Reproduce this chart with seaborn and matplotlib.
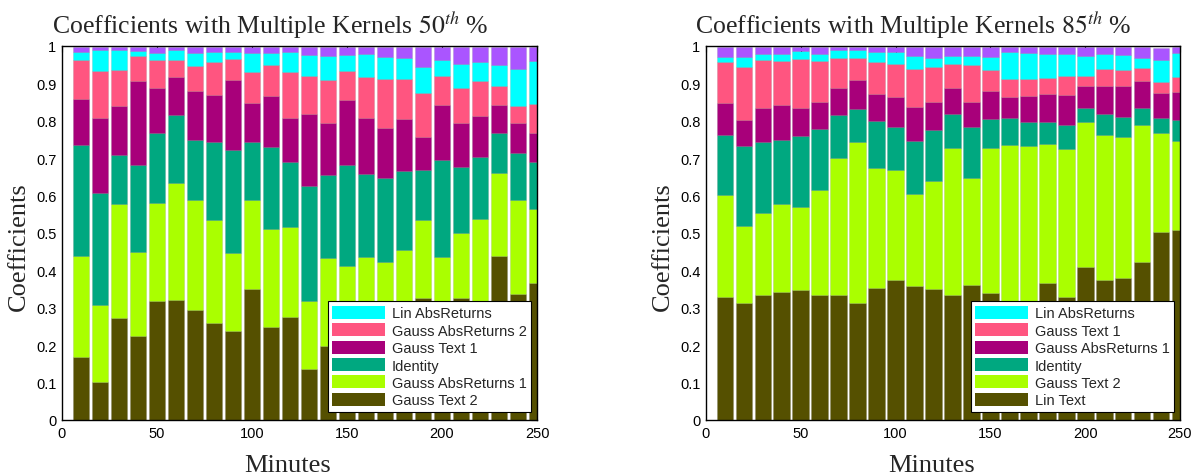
import numpy as np
import pandas as pd
import matplotlib
matplotlib.use("Agg")
import matplotlib.pyplot as plt
import seaborn as sns
from matplotlib.patches import Patch

minutes = list(range(10, 251, 10))

# ---- Left panel (50th percentile), segment heights bottom -> top ----
l_gauss_text2 = [0.168, 0.102, 0.273, 0.224, 0.318, 0.321, 0.294, 0.259, 0.239, 0.349, 0.249, 0.276, 0.136,
                 0.198, 0.280, 0.300, 0.250, 0.290, 0.326, 0.310, 0.325, 0.300, 0.439, 0.338, 0.365]
l_gauss_absret1 = [0.270, 0.205, 0.305, 0.225, 0.263, 0.312, 0.294, 0.276, 0.208, 0.239, 0.262, 0.239, 0.182,
                   0.234, 0.131, 0.136, 0.172, 0.164, 0.209, 0.127, 0.175, 0.237, 0.221, 0.250, 0.199]
l_identity = [0.298, 0.301, 0.131, 0.234, 0.186, 0.183, 0.161, 0.208, 0.275, 0.155, 0.218, 0.176, 0.309,
              0.222, 0.271, 0.222, 0.225, 0.213, 0.134, 0.258, 0.176, 0.166, 0.107, 0.126, 0.125]
l_gauss_text1 = [0.122, 0.200, 0.131, 0.224, 0.122, 0.100, 0.131, 0.127, 0.187, 0.104, 0.136, 0.116, 0.190,
                 0.139, 0.174, 0.149, 0.135, 0.138, 0.088, 0.147, 0.118, 0.109, 0.076, 0.080, 0.078]
l_gauss_absret2 = [0.105, 0.125, 0.096, 0.067, 0.074, 0.047, 0.066, 0.087, 0.055, 0.083, 0.084, 0.123, 0.102,
                   0.117, 0.076, 0.109, 0.130, 0.107, 0.117, 0.077, 0.093, 0.095, 0.050, 0.045, 0.078]
l_lin_absret = [0.020, 0.057, 0.053, 0.013, 0.018, 0.025, 0.034, 0.028, 0.019, 0.052, 0.031, 0.053, 0.057,
                0.063, 0.044, 0.063, 0.059, 0.055, 0.071, 0.044, 0.065, 0.050, 0.056, 0.099, 0.115]
l_other = [0.013, 0.006, 0.007, 0.009, 0.015, 0.008, 0.016, 0.011, 0.013, 0.014, 0.016, 0.013, 0.020,
           0.023, 0.020, 0.017, 0.025, 0.029, 0.051, 0.033, 0.044, 0.039, 0.047, 0.058, 0.036]

# ---- Right panel (85th percentile), segment heights bottom -> top ----
r_lin_text = [0.329, 0.313, 0.334, 0.342, 0.347, 0.333, 0.334, 0.312, 0.353, 0.374, 0.358, 0.349, 0.334,
              0.362, 0.340, 0.300, 0.310, 0.366, 0.328, 0.410, 0.373, 0.379, 0.422, 0.502, 0.508]
r_gauss_text2 = [0.273, 0.206, 0.220, 0.235, 0.223, 0.283, 0.367, 0.431, 0.322, 0.295, 0.246, 0.291, 0.393,
                 0.286, 0.387, 0.436, 0.422, 0.372, 0.396, 0.388, 0.390, 0.379, 0.367, 0.265, 0.238]
r_identity = [0.160, 0.213, 0.190, 0.172, 0.189, 0.162, 0.114, 0.089, 0.125, 0.114, 0.142, 0.135, 0.090,
              0.136, 0.079, 0.071, 0.065, 0.058, 0.065, 0.035, 0.054, 0.052, 0.045, 0.041, 0.056]
r_gauss_absret1 = [0.086, 0.071, 0.090, 0.093, 0.074, 0.071, 0.074, 0.076, 0.071, 0.080, 0.090, 0.074, 0.071,
                   0.065, 0.075, 0.057, 0.069, 0.076, 0.081, 0.060, 0.076, 0.083, 0.072, 0.066, 0.074]
r_gauss_text1 = [0.108, 0.142, 0.129, 0.118, 0.132, 0.111, 0.079, 0.060, 0.087, 0.089, 0.102, 0.095, 0.064,
                 0.101, 0.055, 0.049, 0.047, 0.042, 0.050, 0.028, 0.045, 0.042, 0.034, 0.030, 0.041]
r_lin_absret = [0.015, 0.025, 0.016, 0.019, 0.021, 0.019, 0.021, 0.020, 0.025, 0.032, 0.036, 0.024, 0.022,
                0.024, 0.034, 0.072, 0.068, 0.065, 0.059, 0.053, 0.041, 0.041, 0.028, 0.059, 0.064]
r_other = [0.025, 0.026, 0.017, 0.017, 0.010, 0.017, 0.007, 0.008, 0.013, 0.012, 0.022, 0.028, 0.022,
           0.022, 0.026, 0.011, 0.015, 0.017, 0.017, 0.022, 0.017, 0.020, 0.028, 0.031, 0.015]

C_OLIVE = "#555000"
C_LIME = "#aaff00"
C_TEAL = "#00a880"
C_MAG = "#a8007a"
C_PINK = "#ff5580"
C_CYAN = "#00ffff"
C_PURP = "#aa55ff"

left_series = [  # top -> bottom (legend order), with colors
    ("Other", l_other, C_PURP),
    ("Lin AbsReturns", l_lin_absret, C_CYAN),
    ("Gauss AbsReturns 2", l_gauss_absret2, C_PINK),
    ("Gauss Text 1", l_gauss_text1, C_MAG),
    ("Identity", l_identity, C_TEAL),
    ("Gauss AbsReturns 1", l_gauss_absret1, C_LIME),
    ("Gauss Text 2", l_gauss_text2, C_OLIVE),
]
right_series = [
    ("Other", r_other, C_PURP),
    ("Lin AbsReturns", r_lin_absret, C_CYAN),
    ("Gauss Text 1", r_gauss_text1, C_PINK),
    ("Gauss AbsReturns 1", r_gauss_absret1, C_MAG),
    ("Identity", r_identity, C_TEAL),
    ("Gauss Text 2", r_gauss_text2, C_LIME),
    ("Lin Text", r_lin_text, C_OLIVE),
]

sns.set_style("white")
plt.rcParams["font.family"] = ["Liberation Sans", "DejaVu Sans"]
plt.rcParams["mathtext.fontset"] = "stix"

fig = plt.figure(figsize=(11.99, 4.77), dpi=100)
axes = [fig.add_axes([62 / 1199, 56 / 477, 475 / 1199, 374 / 477]),
        fig.add_axes([706 / 1199, 56 / 477, 474 / 1199, 374 / 477])]
titles = [r"Coefficients with Multiple Kernels $50^{th}$ %",
          r"Coefficients with Multiple Kernels $85^{th}$ %"]
serif = ["Liberation Serif", "DejaVu Serif"]

for ax, series, title in zip(axes, [left_series, right_series], titles):
    rows = []
    for name, vals, _ in series:
        for m, v in zip(minutes, vals):
            rows.append({"minute": m, "series": name, "value": v})
    df = pd.DataFrame(rows)
    order = [s[0] for s in series]
    pal = {s[0]: s[2] for s in series}
    sns.histplot(data=df, x="minute", weights="value", hue="series", hue_order=order,
                 palette=pal, multiple="stack", binwidth=10, binrange=(5, 255),
                 shrink=0.88, alpha=1, linewidth=0.4, edgecolor=(0, 0, 0, 0.15),
                 legend=False, ax=ax)
    ax.set_xlim(0, 250)
    ax.set_ylim(0, 1)
    ax.set_xticks(range(0, 251, 50))
    ax.set_yticks(np.round(np.arange(0, 1.01, 0.1), 1))
    ax.set_yticklabels(["0"] + [f"{v:.1f}" for v in np.arange(0.1, 0.95, 0.1)] + ["1"])
    ax.tick_params(direction="in", length=4, width=0.8, labelsize=10.5, top=True, right=True,
                   colors="black", pad=4)
    ax.set_axisbelow(True)
    for sp in ax.spines.values():
        sp.set_visible(True)
        sp.set_linewidth(1.0)
        sp.set_color("black")
    ax.set_xlabel("Minutes", fontsize=19, family=serif)
    ax.set_ylabel("Coefficients", fontsize=19, family=serif)
    ax.xaxis.set_label_coords(0.475, -0.09)
    ax.yaxis.set_label_coords(-0.068, 0.465)
    ax.set_title(title, fontsize=18.5, family=serif, x=0.438, pad=9)

    handles = [Patch(facecolor=s[2], edgecolor="none", label=s[0]) for s in series[1:]]
    leg = ax.legend(handles=handles, loc="lower right", bbox_to_anchor=(0.988, 0.022),
                    fontsize=10.5, frameon=True, fancybox=False, edgecolor="black",
                    facecolor="white", framealpha=1,
                    handlelength=3.6, handleheight=1.0, handletextpad=0.5,
                    labelspacing=0.2, borderpad=0.3, borderaxespad=0.0)
    leg.get_frame().set_linewidth(0.8)
    leg.set_zorder(10)

fig.savefig("out.png", dpi=100)
